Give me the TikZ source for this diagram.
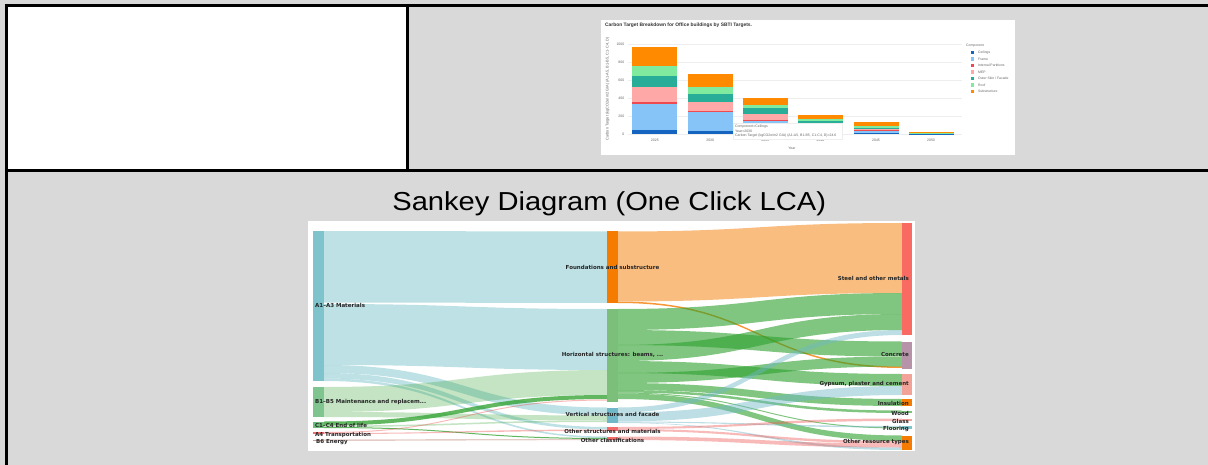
\documentclass[tikz,border=0pt]{standalone}
\usepackage{fontspec}
\setmainfont{Liberation Sans}
\newfontfamily\sankeyfont{DejaVu Sans}
\usetikzlibrary{calc}

% table
\definecolor{cellgray}{HTML}{D9D9D9}
% bar chart
\definecolor{ceilC}{HTML}{1565C0}
\definecolor{frameC}{HTML}{86C4F8}
\definecolor{partC}{HTML}{EE4A50}
\definecolor{mepC}{HTML}{FFA8A8}
\definecolor{facC}{HTML}{27AD98}
\definecolor{roofC}{HTML}{80EA9E}
\definecolor{subC}{HTML}{FF8A00}
\definecolor{gridC}{HTML}{EEEEEE}
\definecolor{axisT}{HTML}{666666}
\definecolor{titleT}{HTML}{333333}
% sankey
\definecolor{tealN}{HTML}{7FC4CC}
\definecolor{vertN}{HTML}{70B7C8}
\definecolor{greenN}{HTML}{7BBF7B}
\definecolor{maintN}{HTML}{80C58F}
\definecolor{eolN}{HTML}{6DBD7A}
\definecolor{greenB}{HTML}{2CA02C}
\definecolor{orangeN}{HTML}{F57C00}
\definecolor{redN}{HTML}{F26C6C}
\definecolor{pinkB}{HTML}{EF5350}
\definecolor{steelN}{HTML}{F96A62}
\definecolor{concN}{HTML}{B793A9}
\definecolor{gypN}{HTML}{F3A298}
\definecolor{energyN}{HTML}{C99A8E}
\definecolor{labT}{HTML}{262626}

% one sankey link: source node, source top/bottom y, target node, target top/bottom y, style
\newcommand\band[7]{%
  \fill[#7] let \p1=(#1.east), \p2=(#4.west), \p3=($(\p1)!.5!(\p2)$) in
    (\x1,-#2pt) .. controls (\x3,-#2pt) and (\x3,-#5pt) .. (\x2,-#5pt)
    -- (\x2,-#6pt) .. controls (\x3,-#6pt) and (\x3,-#3pt) .. (\x1,-#3pt) -- cycle;}

\begin{document}
\begin{tikzpicture}[x=1pt,y=-1pt,
  rule/.style={line width=3pt,black},
  grid/.style={draw=gridC,line width=.5pt},
  tick/.style={font=\fontsize{3.5}{4}\selectfont,text=axisT,inner sep=0},
  charttitle/.style={font=\bfseries\fontsize{4.9}{5.5}\selectfont,text=titleT,inner sep=0},
  legtext/.style={font=\fontsize{3.4}{4}\selectfont,text=axisT,inner sep=0,anchor=west},
  legkey/.style={minimum size=3.4pt,inner sep=0,outer sep=0},
  snode/.style={rectangle,inner sep=0,outer sep=0,anchor=north west,minimum width=11pt},
  rnode/.style={rectangle,inner sep=0,outer sep=0,anchor=north west,minimum width=10pt},
  slab/.style={font=\sankeyfont\bfseries\fontsize{5.5}{6}\selectfont,text=labT,inner sep=0},
  tealF/.style={fill=tealN,fill opacity=.5},
  vertF/.style={fill=vertN,fill opacity=.45},
  greenF/.style={fill=greenB,fill opacity=.6},
  maintF/.style={fill=greenB,fill opacity=.28},
  eolF/.style={fill=greenB,fill opacity=.75},
  pinkF/.style={fill=pinkB,fill opacity=.4},
  orangeF/.style={fill=orangeN,fill opacity=.5},
  orangeL/.style={fill=orangeN,fill opacity=.8},
  energyF/.style={fill=energyN,fill opacity=.5}]
\useasboundingbox (0,0) rectangle (1208,465);

% ---------------- table ----------------
\fill[cellgray] (0,0) rectangle (1208,465);
\fill[white] (6,5.5) rectangle (407.7,170.5);
\draw[rule] (4.5,5.5) -- (1208,5.5);
\draw[rule] (6,4) -- (6,465);
\draw[rule] (407.7,5.5) -- (407.7,170.5);
\draw[rule] (4.5,170.5) -- (1208,170.5);

% ---------------- stacked bar chart ----------------
\fill[white] (601,20) rectangle (1015,155);
\node[charttitle,anchor=west] (ctitle) at (605,25)
  {Carbon Target Breakdown for Office buildings by SBTI Targets.};
\foreach \v in {0,200,400,600,800,1000}{
  \draw[grid] (628,{134-0.0893*\v}) -- (962,{134-0.0893*\v});
  \node[tick,anchor=east] (yt\v) at (624.5,{134-0.0893*\v}) {\v};
}
\node[tick,rotate=90,font=\fontsize{3.9}{4.5}\selectfont] (ytitle) at (607.5,89)
  {Carbon Target (kgCO2e/m2 GIA) (A1-A5, B1-B5, C1-C4, D)};
\foreach \cx/\a/\b/\c/\d/\e/\f/\g in {
  654.8/130/104.3/102.5/86.7/76/65.7/46.7,
  710.2/131/112.3/110.8/102.3/94/86.7/74.3,
  765.2/132.5/121.5/120.5/114.5/108.5/105.5/97.7,
  820.5/133/127/126/124.5/121.5/119.3/115,
  876/133.5/130.7/129.9/129.3/128/126.2/122.3,
  931/133.8/133.5/133.4/133.3/133/132.6/131.7}{
  \fill[ceilC]  ({\cx-22.5},134) rectangle ({\cx+22.5},\a);
  \fill[frameC] ({\cx-22.5},\a) rectangle ({\cx+22.5},\b);
  \fill[partC]  ({\cx-22.5},\b) rectangle ({\cx+22.5},\c);
  \fill[mepC]   ({\cx-22.5},\c) rectangle ({\cx+22.5},\d);
  \fill[facC]   ({\cx-22.5},\d) rectangle ({\cx+22.5},\e);
  \fill[roofC]  ({\cx-22.5},\e) rectangle ({\cx+22.5},\f);
  \fill[subC]   ({\cx-22.5},\f) rectangle ({\cx+22.5},\g);
}
\foreach \cx/\yr in {654.8/2025,710.2/2030,765.2/2035,820.5/2040,876/2045,931/2050}
  \node[tick] (xt\yr) at (\cx,140.5) {\yr};
\node[tick] (xtitle) at (792,148) {Year};
% hover label
\node[draw=gridC,fill=white,line width=.4pt,anchor=north west,minimum width=109pt,
  minimum height=16pt,inner sep=0] (tip) at (733,123) {};
\node[tick,anchor=west] (tip1) at (735,126.3) {Component=Ceilings};
\node[tick,anchor=west] (tip2) at (735,131) {Year=2030};
\node[tick,anchor=west] (tip3) at (735,135.8)
  {Carbon Target (kgCO2e/m2 GIA) (A1-A5, B1-B5, C1-C4, D)=24.6};
% legend
\node[legtext] (legtitle) at (966,46) {Component};
\foreach \i/\c/\t in {0/ceilC/Ceilings,1/frameC/Frame,2/partC/Internal Partitions,
  3/mepC/MEP,4/facC/{Outer Skin / Facade},5/roofC/Roof,6/subC/Substructure}{
  \node[legkey,fill=\c] (lk\i) at (972.5,{52.7+6.5*\i}) {};
  \node[legtext] (lt\i) at (978,{52.7+6.5*\i}) {\t};
}

% ---------------- sankey ----------------
\node[font=\fontsize{26}{30}\selectfont,inner sep=0,anchor=base] (sktitle) at (609.2,211)
  {\scalebox{1.12}[1]{Sankey Diagram (One Click LCA)}};
\fill[white] (308,221) rectangle (915,451);

% life-cycle stages
\node[snode,fill=tealN,minimum height=150pt] (A13) at (313,231) {};
\node[snode,fill=maintN,minimum height=30pt] (B15) at (313,387) {};
\node[snode,fill=eolN,minimum height=6.5pt] (C14) at (313,421.5) {};
\node[snode,fill=redN,minimum height=2pt] (A4) at (313,432) {};
\node[snode,fill=energyN,minimum height=1.5pt] (B6) at (313,439.5) {};
% building parts
\node[snode,fill=orangeN,minimum height=71.5pt] (Fnd) at (607,231.5) {};
\node[snode,fill=greenN,minimum height=92.5pt] (Hor) at (607,309) {};
\node[snode,fill=vertN,minimum height=15.5pt] (Vert) at (607,407.5) {};
\node[snode,fill=redN,minimum height=4pt] (OthS) at (607,427) {};
\node[snode,fill=redN,minimum height=3.5pt] (OthC) at (607,436.5) {};
% resource types
\node[rnode,fill=steelN,minimum height=112pt] (Steel) at (902,223) {};
\node[rnode,fill=concN,minimum height=27pt] (Conc) at (902,341.5) {};
\node[rnode,fill=gypN,minimum height=21pt] (Gyp) at (902,374) {};
\node[rnode,fill=orangeN,minimum height=7pt] (Ins) at (902,399) {};
\node[rnode,fill=greenN,minimum height=2.5pt] (Wood) at (902,410.5) {};
\node[rnode,fill=gypN,minimum height=2.5pt] (Glass) at (902,418.5) {};
\node[rnode,fill=tealN,minimum height=2.5pt] (Floor) at (902,426) {};
\node[rnode,fill=orangeN,minimum height=14.5pt] (OthR) at (902,435.5) {};

% links, stages -> building parts
\band{A13}{231}{302.5}{Fnd}{231.5}{303}{tealF}
\band{A13}{304}{365}{Hor}{309}{370}{tealF}
\band{A13}{365}{373}{Vert}{407.5}{415.5}{tealF}
\band{A13}{373}{378.5}{OthS}{427}{429.5}{tealF}
\band{A13}{378.5}{381}{OthC}{436.5}{438}{tealF}
\band{B15}{387}{412}{Hor}{370}{395}{maintF}
\band{B15}{412}{417}{Vert}{415.5}{420.5}{maintF}
\band{C14}{421.5}{425.5}{Hor}{395}{399}{eolF}
\band{C14}{425.5}{427}{Vert}{420.5}{422}{maintF}
\band{C14}{427}{428}{OthC}{438}{439}{eolF}
\band{A4}{432}{433}{Hor}{399.5}{400.5}{pinkF}
\band{A4}{433}{434}{OthS}{429.5}{431}{pinkF}
\band{B6}{439.5}{441}{OthC}{438.8}{440}{energyF}
% links, building parts -> resource types
\band{Fnd}{231.5}{301.5}{Steel}{223}{293}{orangeF}
\band{Fnd}{301.5}{303}{Conc}{366.5}{368}{orangeL}
\band{Hor}{309}{330}{Steel}{293}{314}{greenF}
\band{Hor}{330}{345}{Conc}{341.5}{356.5}{greenF}
\band{Hor}{345}{361}{Steel}{314}{330}{greenF}
\band{Hor}{361}{373}{Gyp}{374}{386}{greenF}
\band{Hor}{373}{383}{Conc}{356.5}{366.5}{greenF}
\band{Hor}{383}{390}{Ins}{399}{406}{greenF}
\band{Hor}{390}{392.5}{Wood}{410.5}{413}{greenF}
\band{Hor}{392.5}{393.5}{Floor}{427.5}{428.5}{greenF}
\band{Hor}{393.5}{399}{OthR}{435.5}{441}{greenF}
\band{Vert}{407.5}{412.5}{Steel}{330}{335}{vertF}
\band{Vert}{412.5}{421.5}{Gyp}{386}{395}{vertF}
\band{Vert}{421.5}{422.5}{Floor}{426}{427.5}{vertF}
\band{Vert}{422.5}{423}{OthR}{447.5}{450}{vertF}
\band{OthS}{427}{429}{Glass}{418.5}{421}{pinkF}
\band{OthS}{429}{431}{OthR}{441}{443.5}{pinkF}
\band{OthC}{436.5}{440}{OthR}{443.5}{447.5}{pinkF}

% node bars drawn again above the links
\foreach \n/\c in {A13/tealN,B15/maintN,C14/eolN,A4/redN,B6/energyN,Fnd/orangeN,Hor/greenN,
  Vert/vertN,OthS/redN,OthC/redN,Steel/steelN,Conc/concN,Gyp/gypN,Ins/orangeN,Wood/greenN,
  Glass/gypN,Floor/tealN,OthR/orangeN}
  \fill[\c] (\n.north west) rectangle (\n.south east);

% labels
\node[slab,anchor=west] (lA13) at (315,305) {A1–A3 Materials};
\node[slab,anchor=west] (lB15) at (315,401.5) {B1–B5 Maintenance and replacem...};
\node[slab,anchor=west] (lC14) at (315,425) {C1–C4 End of life};
\node[slab,anchor=west] (lA4) at (315,435) {A4 Transportation};
\node[slab,anchor=west] (lB6) at (316,441.8) {B6 Energy};
\node[slab] (lFnd) at (612.5,267) {Foundations and substructure};
\node[slab] (lHor) at (612.5,355) {Horizontal structures: beams, ...};
\node[slab] (lVert) at (612.5,414) {Vertical structures and facade};
\node[slab] (lOthS) at (612.5,431.5) {Other structures and materials};
\node[slab] (lOthC) at (612.5,440.5) {Other classifications};
\node[slab,anchor=east] (lSteel) at (909,278.5) {Steel and other metals};
\node[slab,anchor=east] (lConc) at (909,354.5) {Concrete};
\node[slab,anchor=east] (lGyp) at (909,384) {Gypsum, plaster and cement};
\node[slab,anchor=east] (lIns) at (909,403) {Insulation};
\node[slab,anchor=east] (lWood) at (909,413) {Wood};
\node[slab,anchor=east] (lGlass) at (909,421.5) {Glass};
\node[slab,anchor=east] (lFloor) at (909,429) {Flooring};
\node[slab,anchor=east] (lOthR) at (909,442.5) {Other resource types};
\end{tikzpicture}
\end{document}
